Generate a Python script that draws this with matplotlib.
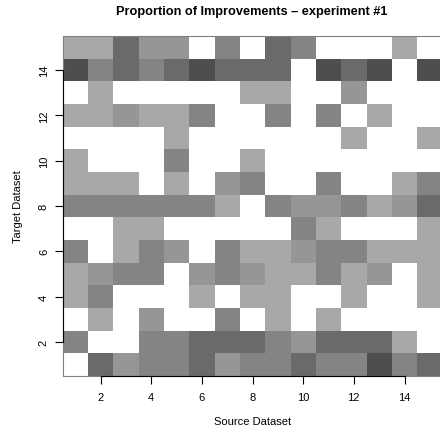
import numpy as np
import matplotlib
matplotlib.use("Agg")
import matplotlib.pyplot as plt
from matplotlib.colors import ListedColormap, BoundaryNorm

plt.rcParams['font.family'] = ['Liberation Sans', 'DejaVu Sans']

# proportion level per cell: 0 = none (white) ... 5 = highest (darkest)
# rows = target dataset 1..15 (bottom to top), columns = source dataset 1..15
levels = np.array([
    [0, 4, 2, 3, 3, 4, 2, 3, 3, 4, 3, 3, 5, 3, 4],  # 1
    [3, 0, 0, 3, 3, 4, 4, 4, 3, 2, 4, 4, 4, 1, 0],  # 2
    [0, 1, 0, 2, 0, 0, 3, 0, 1, 0, 1, 0, 0, 0, 0],  # 3
    [1, 3, 0, 0, 0, 1, 0, 1, 1, 0, 0, 1, 0, 0, 1],  # 4
    [1, 2, 3, 3, 0, 2, 3, 2, 1, 1, 3, 1, 2, 0, 1],  # 5
    [3, 0, 1, 3, 2, 0, 3, 1, 1, 2, 3, 3, 1, 1, 1],  # 6
    [0, 0, 1, 1, 0, 0, 0, 0, 0, 3, 1, 0, 0, 0, 1],  # 7
    [3, 3, 3, 3, 3, 3, 1, 0, 3, 2, 2, 3, 1, 2, 4],  # 8
    [1, 1, 1, 0, 1, 0, 2, 3, 0, 0, 3, 0, 0, 1, 3],  # 9
    [1, 0, 0, 0, 3, 0, 0, 1, 0, 0, 0, 0, 0, 0, 0],  # 10
    [0, 0, 0, 0, 1, 0, 0, 0, 0, 0, 0, 1, 0, 0, 1],  # 11
    [1, 1, 2, 1, 1, 3, 0, 0, 3, 0, 3, 0, 1, 0, 0],  # 12
    [0, 1, 0, 0, 0, 0, 0, 1, 1, 0, 0, 2, 0, 0, 0],  # 13
    [5, 3, 4, 3, 4, 5, 4, 4, 4, 0, 5, 4, 5, 0, 5],  # 14
    [1, 1, 4, 2, 2, 0, 3, 0, 4, 3, 0, 0, 0, 1, 0],  # 15
])
source = np.arange(1, 16)
target = np.arange(1, 16)
gray_levels = ['#ffffff', '#a8a8a8', '#969696', '#848484', '#6a6a6a', '#4e4e4e']

fig = plt.figure(figsize=(4.4, 4.31), dpi=100)
ax = fig.add_axes([62.5 / 440, 54 / 431, (442.5 - 62.5) / 440, (377 - 37) / 431])

cmap = ListedColormap(gray_levels)
norm = BoundaryNorm(np.arange(-0.5, len(gray_levels) + 0.5), cmap.N)
ax.pcolormesh(np.append(source - 0.5, source[-1] + 0.5),
              np.append(target - 0.5, target[-1] + 0.5),
              levels, cmap=cmap, norm=norm, shading='flat')

ax.set_xlim(0.5, 15.5)
ax.set_ylim(0.5, 15.5)

for s in ax.spines.values():
    s.set_color('#808080')
    s.set_linewidth(0.8)

ticks = np.arange(2, 15, 2)
ax.set_xticks(ticks)
ax.set_yticks(ticks)
ax.tick_params(direction='out', length=6, width=0.8, labelsize=8)
ax.tick_params(axis='x', pad=5.8)
ax.tick_params(axis='y', pad=3.8)
ax.set_yticklabels([str(t) for t in ticks], rotation=90, va='center')

# R-style axis lines spanning first to last tick
ax.plot([2, 14], [0.5, 0.5], color='black', lw=0.8, clip_on=False, zorder=5)
ax.plot([0.5, 0.5], [2, 14], color='black', lw=0.8, clip_on=False, zorder=5)

ax.set_xlabel("Source Dataset", fontsize=8, labelpad=10)
ax.set_ylabel("Target Dataset", fontsize=8, labelpad=11.5)
fig.text(252 / 440, 1 - 12 / 431, "Proportion of Improvements \u2013 experiment #1",
         ha='center', va='center', fontsize=9.2, fontweight='bold')

fig.savefig("out.png", dpi=100)
